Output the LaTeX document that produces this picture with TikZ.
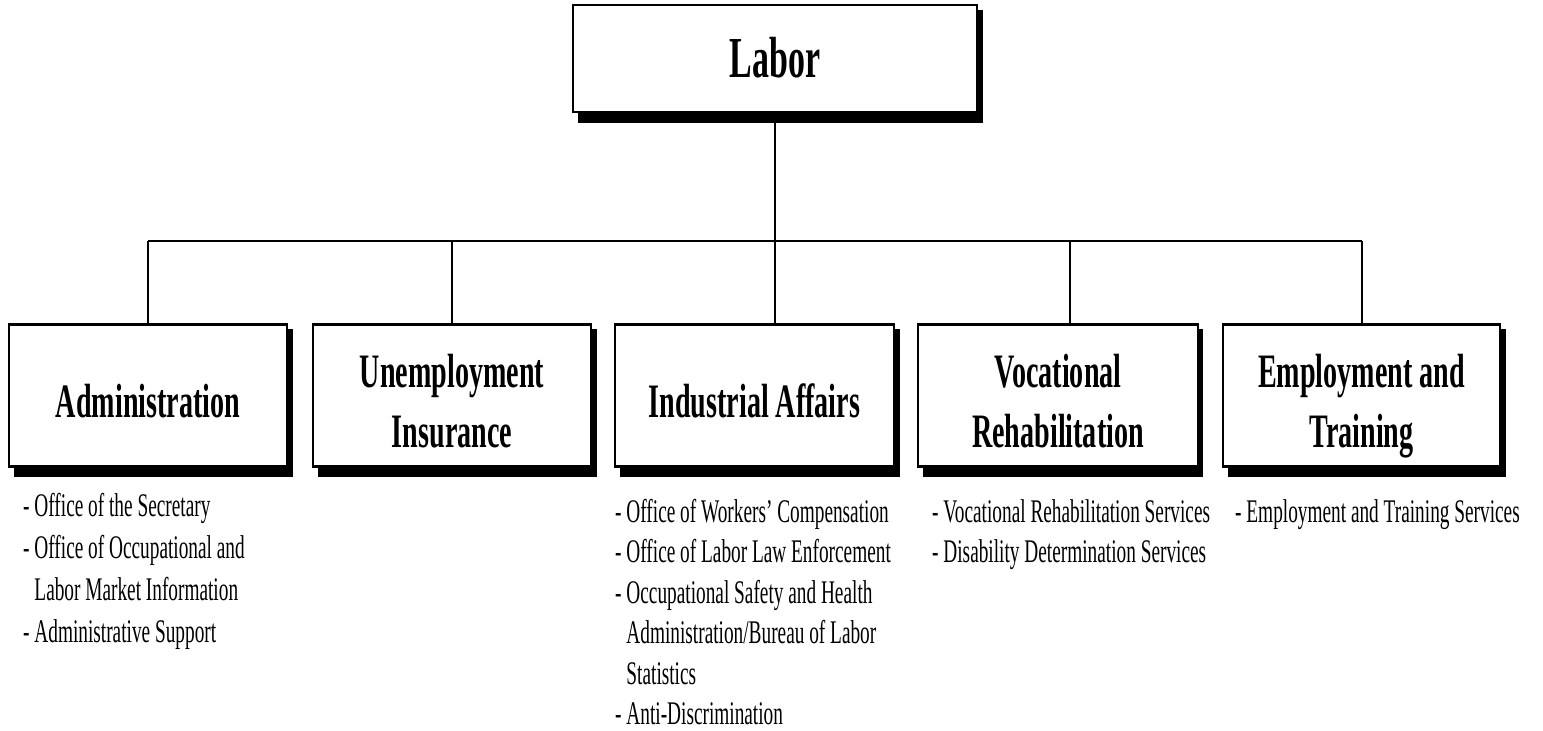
\documentclass[tikz,border=0pt]{standalone}
\usepackage{fontspec}
\setmainfont[FakeStretch=0.585]{Liberation Serif}
\begin{document}
\begin{tikzpicture}[x=1pt,y=-1pt,
  shadowbox/.style={fill=black},
  orgbox/.style={draw=black,fill=white,line width=2.2pt},
  conn/.style={draw=black,line width=1.8pt},
  toptitle/.style={anchor=base,inner sep=0pt,font=\bfseries\fontsize{58}{60}\selectfont},
  boxtitle/.style={anchor=base,inner sep=0pt,font=\bfseries\fontsize{48}{60}\selectfont},
  item/.style={anchor=base west,inner sep=0pt,font=\fontsize{33}{40}\selectfont}]
\useasboundingbox (0,0) rectangle (1543,731);
% shadows
\fill[shadowbox] (578,10) rectangle (983,123);
\fill[shadowbox] (14,329) rectangle (293,477);
\fill[shadowbox] (318,329) rectangle (597,477);
\fill[shadowbox] (620,329) rectangle (900,477);
\fill[shadowbox] (923,329) rectangle (1203,477);
\fill[shadowbox] (1228,329) rectangle (1506,477);
% boxes
\node[orgbox,inner sep=0pt] (labor) at (775,58.5) [minimum width=404pt,minimum height=107pt] {};
\node[orgbox,inner sep=0pt] (adm) at (148,395.5) [minimum width=278pt,minimum height=142pt] {};
\node[orgbox,inner sep=0pt] (unemp) at (452,395.5) [minimum width=278pt,minimum height=142pt] {};
\node[orgbox,inner sep=0pt] (ind) at (754.5,395.5) [minimum width=279pt,minimum height=142pt] {};
\node[orgbox,inner sep=0pt] (voc) at (1058,395.5) [minimum width=280pt,minimum height=142pt] {};
\node[orgbox,inner sep=0pt] (emp) at (1361.5,395.5) [minimum width=277pt,minimum height=142pt] {};
% connectors
\coordinate (bus) at (775,241);
\coordinate (busL) at (148,241);
\coordinate (busR) at (1362,241);
\coordinate (bU) at (452,241);
\coordinate (bV) at (1070,241);
\draw[conn] (labor.south) -- (bus);
\draw[conn] (busL) -- (busR);
\draw[conn] (busL) -- (busL |- adm.north);
\draw[conn] (bU) -- (bU |- unemp.north);
\draw[conn] (bus) -- (bus |- ind.north);
\draw[conn] (bV) -- (bV |- voc.north);
\draw[conn] (busR) -- (busR |- emp.north);
% titles
\node[toptitle] (tlabor) at (775,77) {Labor};
\node[boxtitle] (tadm) at (148,417) {Administration};
\node[boxtitle] (tun1) at (452,387) {Unemployment};
\node[boxtitle] (tun2) at (452,447) {Insurance};
\node[boxtitle] (tind) at (754.5,417) {Industrial Affairs};
\node[boxtitle] (tvoc1) at (1058,387) {Vocational};
\node[boxtitle] (tvoc2) at (1058,447) {Rehabilitation};
\node[boxtitle] (temp1) at (1361.5,387) {Employment and};
\node[boxtitle] (temp2) at (1361.5,447) {Training};
% lists
\node[item] (a1) at (23,516) {- Office of the Secretary};
\node[item] (a2) at (23,558) {- Office of Occupational and};
\node[item] (a3) at (23,600) {\phantom{- }Labor Market Information};
\node[item] (a4) at (23,642) {- Administrative Support};
\node[item] (i1) at (615,522) {- Office of Workers’ Compensation};
\node[item] (i2) at (615,562.5) {- Office of Labor Law Enforcement};
\node[item] (i3) at (615,603) {- Occupational Safety and Health};
\node[item] (i4) at (615,643.5) {\phantom{- }Administration/Bureau of Labor};
\node[item] (i5) at (615,684) {\phantom{- }Statistics};
\node[item] (i6) at (615,724) {- Anti-Discrimination};
\node[item] (v1) at (932,522) {- Vocational Rehabilitation Services};
\node[item] (v2) at (932,562) {- Disability Determination Services};
\node[item] (e1) at (1235,522) {- Employment and Training Services};
\end{tikzpicture}
\end{document}
